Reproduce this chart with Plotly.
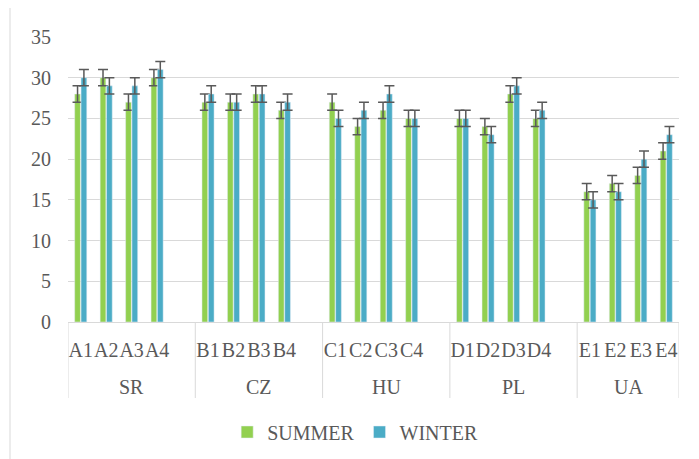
import plotly.graph_objects as go

groups = ["SR", "CZ", "HU", "PL", "UA"]
sites = [["A1", "A2", "A3", "A4"],
         ["B1", "B2", "B3", "B4"],
         ["C1", "C2", "C3", "C4"],
         ["D1", "D2", "D3", "D4"],
         ["E1", "E2", "E3", "E4"]]
summer = [28, 30, 27, 30, 27, 27, 28, 26, 27, 24, 26, 25, 25, 24, 28, 25, 16, 17, 18, 21]
winter = [30, 29, 29, 31, 28, 27, 28, 27, 25, 26, 28, 25, 25, 23, 29, 26, 15, 16, 20, 23]
summer_err = [1] * 20
winter_err = [1] * 20
y_ticks = [0, 5, 10, 15, 20, 25, 30, 35]

# category slots: each group's sites followed by one empty slot (except the last group)
cats, ys, yw, es, ew = [], [], [], [], []
group_span = []
k = 0
for gi, g in enumerate(groups):
    start = len(cats)
    for s in sites[gi]:
        cats.append(s)
        ys.append(summer[k]); yw.append(winter[k])
        es.append(summer_err[k]); ew.append(winter_err[k])
        k += 1
    if gi < len(groups) - 1:
        cats.append(" " * (gi + 1))
        ys.append(None); yw.append(None); es.append(None); ew.append(None)
    group_span.append((start, len(cats) - 1))

FONT = "Liberation Serif, Times New Roman, serif"
TXT = "#595959"
GRID = "#d9d9d9"
FS = 20

fig = go.Figure()
fig.add_trace(go.Bar(x=cats, y=ys, name="SUMMER", marker_color="#92D050",
                     error_y=dict(type="data", array=es, visible=True, color="#595959",
                                  thickness=1.5, width=5)))
fig.add_trace(go.Bar(x=cats, y=yw, name="WINTER", marker_color="#4BACC6",
                     error_y=dict(type="data", array=ew, visible=True, color="#595959",
                                  thickness=1.5, width=5)))

# page has an 8px body offset; plot area on screen should be x 68..679, y 37..322
ML, MT = 60, 29
PW, PH = 611.0, 285.0
W, H = 699, 459
MR = W - ML - int(PW)
MB = H - MT - int(PH)

div_bottom = -(398 - 322) / PH
for gi, (a, b) in enumerate(group_span):
    fig.add_annotation(x=(a + b) / 2, y=-(387 - 322) / PH, xref="x", yref="paper",
                       text=groups[gi], showarrow=False, yanchor="middle",
                       font=dict(family=FONT, size=FS, color=TXT))
bounds = [group_span[0][0] - 0.5] + [b + 0.5 for (a, b) in group_span]
for bx in bounds:
    fig.add_shape(type="line", xref="x", yref="paper", x0=bx, x1=bx, y0=0, y1=div_bottom,
                  line=dict(color=GRID, width=1))

fig.update_layout(
    width=W, height=H,
    margin=dict(l=ML, r=MR, t=MT, b=MB, autoexpand=False),
    paper_bgcolor="white", plot_bgcolor="white",
    barmode="group", bargap=0.5, bargroupgap=0.1,
    font=dict(family=FONT, size=FS, color=TXT),
    showlegend=True,
    legend=dict(orientation="h", x=0.47, xanchor="center", y=-(432 - 322) / PH, yanchor="middle",
                font=dict(family=FONT, size=FS, color=TXT), traceorder="normal",
                itemwidth=30, tracegroupgap=0),
    xaxis=dict(type="category", categoryorder="array", categoryarray=cats,
               range=[-0.5, len(cats) - 0.5],
               showline=True, linecolor=GRID, linewidth=1, tickangle=0,
               ticks="", ticklabelstandoff=10, automargin=False,
               tickfont=dict(family=FONT, size=FS, color=TXT), showgrid=False),
    yaxis=dict(range=[0, 35], tickvals=y_ticks, showgrid=True, gridcolor=GRID, gridwidth=1,
               zeroline=False, showline=False, ticklabelstandoff=16, automargin=False,
               tickfont=dict(family=FONT, size=FS, color=TXT)),
)
fig.add_shape(type="line", xref="paper", yref="paper", x0=(2 - ML) / PW, x1=(2 - ML) / PW,
              y0=-1, y1=1.2, line=dict(color=GRID, width=1))

fig.write_html("out.html")
